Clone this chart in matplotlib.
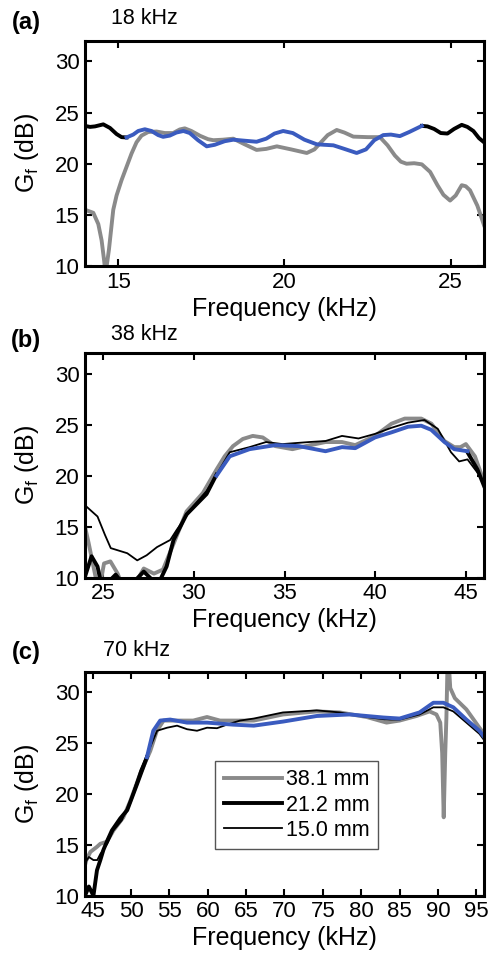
import numpy as np
import matplotlib.pyplot as plt

plt.rcParams['font.family'] = ['Liberation Sans', 'DejaVu Sans']
plt.rcParams['mathtext.fontset'] = 'custom'
plt.rcParams['mathtext.rm'] = 'Liberation Sans'

# ---- panel (a) 18 kHz ----
a_gray_f = [14.0, 14.25, 14.4, 14.5, 14.58, 14.62, 14.66, 14.72, 14.78, 14.85, 14.95, 15.1, 15.25, 15.4,
            15.55, 15.7, 15.9, 16.15, 16.4, 16.65, 16.85, 17.0, 17.2, 17.46, 17.7, 17.86, 18.15, 18.46,
            18.8, 19.16, 19.45, 19.77, 20.2, 20.67, 20.9, 21.07, 21.3, 21.57, 21.8, 22.07, 22.5, 22.87,
            23.1, 23.32, 23.5, 23.67, 23.9, 24.13, 24.38, 24.6, 24.78, 24.98, 25.15, 25.33, 25.45,
            25.58, 25.8, 26.0]
a_gray_g = [15.5, 15.2, 14.1, 12.5, 10.4, 9.0, 10.2, 11.6, 13.4, 15.5, 16.9, 18.4, 19.7, 21.0,
            22.1, 22.75, 23.1, 23.15, 23.0, 23.0, 23.35, 23.46, 23.2, 22.73, 22.4, 22.3, 22.35, 22.45,
            21.9, 21.35, 21.45, 21.7, 21.4, 21.05, 21.4, 22.0, 22.8, 23.3, 23.05, 22.65, 22.6, 22.6,
            21.8, 20.8, 20.2, 20.0, 20.05, 19.94, 19.2, 17.9, 16.96, 16.4, 16.9, 17.9, 17.8,
            17.4, 15.9, 14.0]
a_thick_f = [14.0, 14.15, 14.3, 14.55, 14.75, 14.95, 15.1, 15.25, None,
             24.13, 24.3, 24.5, 24.7, 24.9, 25.1, 25.33, 25.5, 25.68, 25.85, 26.0]
a_thick_g = [23.7, 23.6, 23.65, 23.85, 23.5, 22.9, 22.6, 22.57, None,
             23.7, 23.65, 23.4, 23.0, 22.95, 23.4, 23.8, 23.6, 23.2, 22.5, 22.1]
a_blue_f = [15.25, 15.45, 15.6, 15.8, 16.0, 16.2, 16.35, 16.55, 16.75, 16.96, 17.15, 17.4, 17.66, 17.9,
            18.2, 18.46, 18.8, 19.16, 19.45, 19.7, 19.96, 20.25, 20.6, 20.97, 21.2, 21.47, 21.8,
            22.17, 22.45, 22.7, 22.97, 23.2, 23.47, 23.75, 24.13]
a_blue_g = [22.57, 22.85, 23.2, 23.37, 23.2, 22.8, 22.63, 22.75, 23.05, 23.2, 23.0, 22.3, 21.7, 21.85,
            22.2, 22.35, 22.25, 22.15, 22.45, 22.95, 23.2, 23.0, 22.35, 21.9, 21.85, 21.8, 21.45,
            21.05, 21.4, 22.3, 22.8, 22.85, 22.7, 23.1, 23.7]

# ---- panel (b) 38 kHz ----
b_gray_f = [24.0, 24.2, 24.5, 24.65, 24.85, 25.05, 25.4, 25.8, 26.0, 26.8, 27.24, 27.8, 28.3, 28.9,
            29.6, 30.5, 31.25, 31.7, 32.16, 32.7, 33.25, 33.8, 34.5, 35.44, 36.17, 37.26, 38.17, 38.9,
            39.99, 40.9, 41.63, 42.54, 43.1, 43.82, 44.36, 44.7, 45.0, 45.5, 46.0]
b_gray_g = [15.0, 13.4, 10.8, 9.5, 9.5, 11.4, 11.6, 10.4, 9.5, 9.5, 10.9, 10.4, 10.8, 13.4,
            16.5, 18.3, 20.6, 21.9, 22.9, 23.6, 23.9, 23.75, 22.9, 22.6, 22.9, 23.3, 23.3, 23.0,
            23.9, 25.1, 25.6, 25.6, 25.1, 23.4, 22.8, 22.8, 23.1, 21.9, 19.4]
b_thin_f = [24.0, 24.69, 25.1, 25.42, 26.33, 26.88, 27.4, 27.97, 28.7, 29.06, 29.97, 30.7, 31.25,
            31.98, 33.07, 33.98, 34.89, 36.35, 37.26, 38.17, 39.08, 39.99, 40.9, 41.81, 42.72,
            43.45, 44.18, 44.63, 45.09, 45.64, 46.0]
b_thin_g = [17.1, 16.0, 14.2, 12.9, 12.4, 11.7, 12.2, 13.0, 13.7, 14.7, 17.0, 18.5, 20.1,
            22.3, 22.8, 23.3, 23.1, 23.3, 23.4, 23.9, 23.65, 24.1, 24.7, 25.2, 25.46,
            24.6, 22.3, 21.4, 21.6, 20.3, 19.1]
b_thick_f = [24.0, 24.36, 24.69, 24.87, 25.3, 25.69, 26.0, 26.7, 27.24, 27.7, 28.15, 28.5, 28.88, 29.6,
             30.7, 31.25, None, 45.09, 45.64, 46.0]
b_thick_g = [10.1, 12.1, 11.1, 9.6, 9.6, 10.3, 9.6, 9.6, 10.6, 9.8, 9.8, 11.1, 13.7, 16.2,
             18.2, 20.1, None, 22.3, 20.6, 19.0]
b_blue_f = [31.25, 31.98, 33.07, 34.5, 35.8, 37.26, 38.17, 38.9, 39.99, 40.9, 41.81, 42.54, 43.09,
            43.82, 44.36, 45.09]
b_blue_g = [20.0, 21.9, 22.6, 23.0, 22.9, 22.4, 22.8, 22.7, 23.75, 24.25, 24.8, 24.9, 24.5,
            23.3, 22.6, 22.4]

# ---- panel (c) 70 kHz ----
c_gray_f = [44.0, 44.18, 44.7, 45.56, 46.0, 46.86, 47.7, 49.0, 49.9, 51.2, 52.5, 53.37, 54.24, 55.97,
            58.1, 59.9, 61.6, 63.3, 66.0, 69.8, 74.2, 77.2, 80.7, 83.3, 85.0, 87.2, 88.9, 89.8,
            90.3, 90.55, 90.75, 90.95, 91.1, 91.25, 91.4, 91.6, 92.2, 93.7, 95.4, 96.0]
c_gray_g = [13.0, 13.5, 14.3, 14.8, 15.1, 15.3, 16.4, 17.7, 19.3, 22.0, 24.2, 26.2, 27.2, 27.2,
            27.2, 27.55, 27.2, 27.2, 27.2, 27.8, 28.1, 28.0, 27.55, 27.0, 27.2, 27.65, 28.1, 27.8,
            27.0, 24.0, 17.7, 24.0, 27.5, 33.0, 33.0, 30.4, 29.4, 28.3, 26.5, 25.9]
c_thin_f = [44.0, 44.5, 45.1, 45.6, 46.0, 46.9, 47.7, 48.8, 49.9, 51.2, 52.5, 53.4, 54.7, 56.0, 57.3,
            58.6, 59.9, 61.2, 62.5, 64.2, 66.0, 69.8, 74.2, 77.2, 80.7, 83.3, 85.0, 87.6, 89.4,
            90.7, 92.0, 93.7, 95.4, 96.0]
c_thin_g = [13.2, 13.8, 13.5, 13.5, 14.1, 15.1, 16.4, 17.4, 19.3, 22.3, 24.6, 26.2, 26.5, 26.7, 26.35,
            26.2, 26.5, 26.45, 26.8, 27.2, 27.4, 28.0, 28.2, 28.0, 27.55, 27.3, 27.3, 27.8, 28.5,
            28.5, 28.1, 27.0, 25.9, 25.3]
c_thick_f = [44.0, 44.5, 45.1, 45.56, 46.0, 46.4, 46.9, 47.5, 48.6, 49.5, 50.8, 52.07]
c_thick_g = [10.0, 10.9, 10.0, 12.5, 13.5, 14.5, 15.4, 16.4, 17.6, 18.4, 21.0, 23.6]
c_blue_f = [52.07, 52.9, 53.8, 55.1, 57.3, 59.9, 63.3, 66.0, 69.8, 74.2, 78.5, 82.9, 85.0, 87.6,
            89.4, 90.7, 92.0, 93.7, 95.4, 96.0]
c_blue_g = [23.6, 26.2, 27.2, 27.3, 27.0, 27.0, 26.8, 26.7, 27.1, 27.65, 27.8, 27.5, 27.4, 28.0,
            28.95, 28.95, 28.5, 27.3, 26.2, 25.6]

legend_labels = ['38.1 mm', '21.2 mm', '15.0 mm']
panel_tags = ['(a)', '(b)', '(c)']
panel_titles = ['18 kHz', '38 kHz', '70 kHz']
xlims = [(14, 26), (24, 46), (44, 96)]
xticks = [[15, 20, 25], [25, 30, 35, 40, 45], list(range(45, 100, 5))]

GRAY = '#8a8a8a'
BLUE = '#3a5bbf'


def arr(v):
  return np.array([np.nan if x is None else x for x in v], dtype=float)


fig = plt.figure(figsize=(4.89, 9.57), dpi=100)
W, H = 489.0, 957.0
boxes = [(41, 266), (353.3, 577.7), (671.7, 895.7)]
axes = []
for top, bot in boxes:
  axes.append(fig.add_axes([85 / W, 1 - bot / H, 399 / W, (bot - top) / H]))

series = [
  (a_gray_f, a_gray_g, None, None, a_thick_f, a_thick_g, a_blue_f, a_blue_g),
  (b_gray_f, b_gray_g, b_thin_f, b_thin_g, b_thick_f, b_thick_g, b_blue_f, b_blue_g),
  (c_gray_f, c_gray_g, c_thin_f, c_thin_g, c_thick_f, c_thick_g, c_blue_f, c_blue_g),
]

for i, ax in enumerate(axes):
  gf, gg, tf, tg, kf, kg, bf, bg = series[i]
  lg, = ax.plot(arr(gf), arr(gg), color=GRAY, lw=2.8)
  if tf is not None:
    lt, = ax.plot(arr(tf), arr(tg), color='black', lw=1.3)
  lk, = ax.plot(arr(kf), arr(kg), color='black', lw=2.8)
  ax.plot(arr(bf), arr(bg), color=BLUE, lw=2.8)
  ax.set_xlim(*xlims[i])
  ax.set_ylim(10, 32)
  ax.set_xticks(xticks[i])
  ax.set_yticks([10, 15, 20, 25, 30])
  ax.tick_params(direction='in', top=True, right=True, length=5, width=1.5, labelsize=16, pad=4)
  for s in ax.spines.values():
    s.set_linewidth(2.2)
  ax.set_xlabel('Frequency (kHz)', fontsize=18, labelpad=3)
  ax.set_ylabel(r'G$_\mathrm{f}$ (dB)', fontsize=18, labelpad=10)
  if i == 2:
    leg = ax.legend([lg, lk, lt], legend_labels, loc='upper left', bbox_to_anchor=(0.326, 0.603),
                    borderaxespad=0, fontsize=15.5, fancybox=False, framealpha=1,
                    handlelength=2.7, handletextpad=0.2, labelspacing=0.2, borderpad=0.4)
    leg.get_frame().set_edgecolor('#555555')
    leg.get_frame().set_linewidth(1.0)

tag_y = [23, 341, 653]
title_pos = [(144, 18), (144, 334), (137, 651)]
for i in range(3):
  fig.text(26 / W, 1 - tag_y[i] / H, panel_tags[i], fontsize=17, fontweight='bold', ha='center', va='center')
  fig.text(title_pos[i][0] / W, 1 - title_pos[i][1] / H, panel_titles[i], fontsize=15.5, ha='center', va='center')

fig.savefig('out.png', dpi=100)
